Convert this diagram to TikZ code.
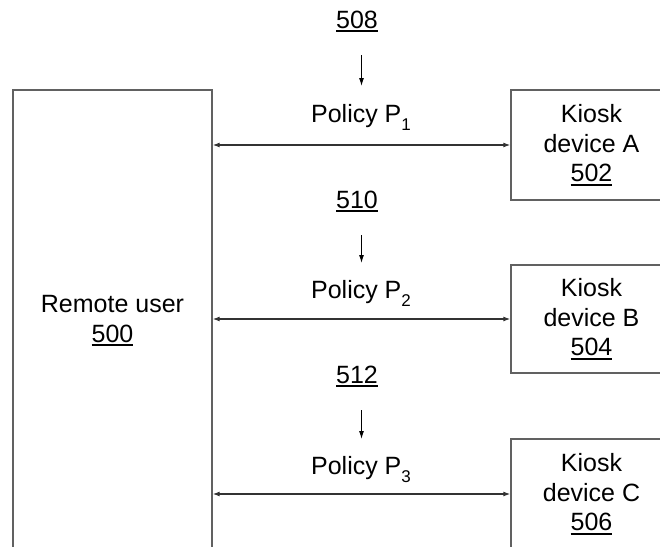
\documentclass[tikz,border=0pt]{standalone}
\usepackage{fontspec}
\setmainfont{Liberation Sans}
\usetikzlibrary{arrows.meta}
\newlength\ulwidth
\newcommand\ulnum[1]{\settowidth\ulwidth{#1}\rlap{\rule[-4pt]{\ulwidth}{2pt}}#1}
\newcommand\polsub[1]{\raisebox{-8pt}{\fontsize{17}{17}\selectfont #1}}
\tikzset{
  x=1pt, y=-1pt,
  every node/.style={font=\fontsize{25}{29.5}\selectfont, inner sep=0pt},
  boxstyle/.style={draw=black!62, line width=1.4pt, align=center},
  label text/.style={anchor=base},
  link/.style={draw=black!80, line width=1.1pt, {Latex[length=7pt,width=5pt]}-{Latex[length=7pt,width=5pt]}},
  downarrow/.style={draw=black, line width=1pt, -{Latex[length=8pt,width=5pt]}},
}
\begin{document}
\begin{tikzpicture}
\useasboundingbox (0,0) rectangle (660,546);
\clip (0,0) rectangle (660,546);
% boxes
\node[boxstyle, minimum width=199pt, minimum height=462pt] (remote) at (112.5,321) {Remote user\\\ulnum{500}};
\node[boxstyle, minimum width=161pt, minimum height=110pt] (kA) at (591.5,145) {Kiosk\\device A\\\ulnum{502}};
\node[boxstyle, minimum width=161pt, minimum height=108pt] (kB) at (591.5,319) {Kiosk\\device B\\\ulnum{504}};
\node[boxstyle, minimum width=161pt, minimum height=110pt] (kC) at (591.5,494) {Kiosk\\device C\\\ulnum{506}};
% links
\draw[link] (remote.east |- kA.west) -- (kA.west);
\draw[link] (remote.east |- kB.west) -- (kB.west);
\draw[link] (remote.east |- kC.west) -- (kC.west);
% reference numbers and policies
\node[label text] (n508) at (357,28) {\ulnum{508}};
\node[label text] (n510) at (357,208) {\ulnum{510}};
\node[label text] (n512) at (357,383) {\ulnum{512}};
\node[label text] (p1) at (361,122) {Policy P\polsub{1}};
\node[label text] (p2) at (361,298) {Policy P\polsub{2}};
\node[label text] (p3) at (361,474) {Policy P\polsub{3}};
\coordinate (a1s) at (361.5,55);  \coordinate (a1e) at (361.5,86);
\coordinate (a2s) at (361.5,235); \coordinate (a2e) at (361.5,263);
\coordinate (a3s) at (361.5,410); \coordinate (a3e) at (361.5,439);
\draw[downarrow] (a1s) -- (a1e);
\draw[downarrow] (a2s) -- (a2e);
\draw[downarrow] (a3s) -- (a3e);
\end{tikzpicture}
\end{document}
